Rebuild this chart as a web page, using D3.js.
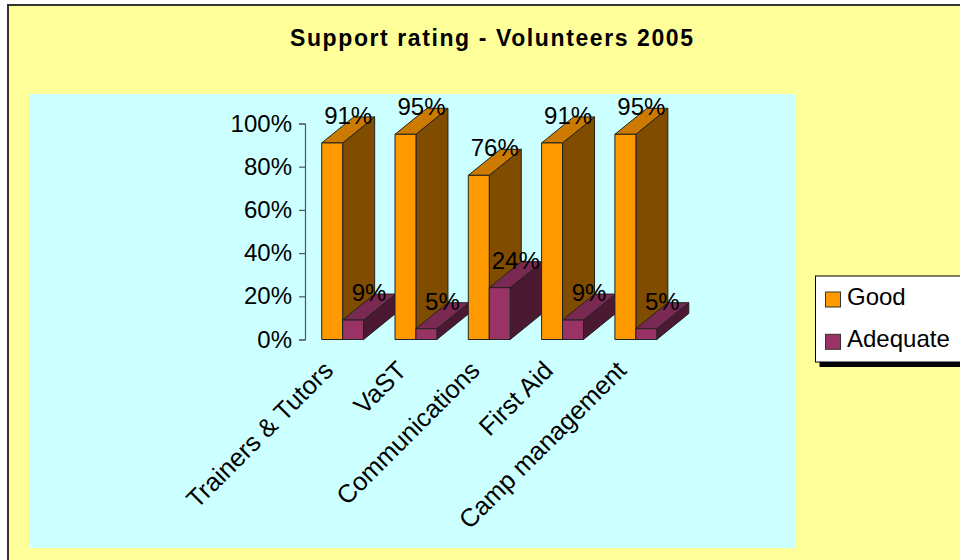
<!DOCTYPE html>
<html><head><meta charset="utf-8">
<script src="https://cdn.jsdelivr.net/npm/d3@7"></script>
<style>html,body{margin:0;padding:0;background:#fff;overflow:hidden}svg{display:block}</style>
</head><body>
<svg id="chart" width="960" height="560"></svg>
<script>
const title = "Support rating - Volunteers 2005";
const categories = ["Trainers & Tutors", "VaST", "Communications", "First Aid", "Camp management"];
const seriesNames = ["Good", "Adequate"];
const good = [0.91, 0.95, 0.76, 0.91, 0.95];
const adequate = [0.09, 0.05, 0.24, 0.09, 0.05];
const yTicks = [0, 0.2, 0.4, 0.6, 0.8, 1.0];

const seriesValues = [good, adequate];
const colors = {
  Good: {front: "#FF9900", top: "#CC7A00", side: "#7F4C00"},
  Adequate: {front: "#993366", top: "#7A2952", side: "#4C1933"}
};
const FONT = "'Liberation Sans', Arial, sans-serif";
const svg = d3.select("#chart");

// chart area background + border
svg.append("rect").attr("x", 8).attr("y", 5).attr("width", 960).attr("height", 560)
  .attr("fill", "#FFFF99").attr("stroke", "#333").attr("stroke-width", 2);
// plot area
svg.append("rect").attr("x", 29.5).attr("y", 94).attr("width", 766).attr("height", 454)
  .attr("fill", "#CCFFFF");

// title
svg.append("text").attr("x", 491.5).attr("y", 46).attr("text-anchor", "middle")
  .attr("font-family", FONT).attr("font-weight", "bold").attr("font-size", 23)
  .attr("textLength", 403).attr("lengthAdjust", "spacing")
  .text(title);

const y = d3.scaleLinear().domain([0, 1]).range([339.5, 123.5]);
const x = d3.scaleBand().domain(categories).range([306, 672.5]).paddingInner(0).paddingOuter(0);
const xs = d3.scaleBand().domain(seriesNames).range([0, x.bandwidth()]).paddingInner(0).paddingOuter(0.75);
const DX = 32, DY = -26;

// y axis
const yAxis = d3.axisLeft(y).tickValues(yTicks).tickFormat(d3.format(".0%")).tickSize(6).tickPadding(7);
const ga = svg.append("g").attr("transform", "translate(305,0)").call(yAxis);
ga.select(".domain").attr("stroke", "#555").attr("stroke-width", 1.2);
ga.selectAll(".tick line").attr("stroke", "#555").attr("stroke-width", 1.2);
ga.selectAll(".tick text").attr("font-family", FONT).attr("font-size", 24).attr("fill", "#000");

// bars
const bars = svg.append("g");
const labels = [];
const pts = p => "M" + p.map(q => q.join(",")).join("L") + "Z";
categories.forEach((c, i) => {
  seriesNames.forEach((s, k) => {
    const v = seriesValues[k][i];
    const x0 = x(c) + xs(s), x1 = x0 + xs.bandwidth();
    const yt = y(v), yb = y(0);
    const col = colors[s];
    const g = bars.append("g").attr("stroke", "#222").attr("stroke-width", 1).attr("stroke-linejoin", "round");
    g.append("path").attr("d", pts([[x1, yt], [x1 + DX, yt + DY], [x1 + DX, yb + DY], [x1, yb]])).attr("fill", col.side);
    g.append("path").attr("d", pts([[x0, yt], [x1, yt], [x1 + DX, yt + DY], [x0 + DX, yt + DY]])).attr("fill", col.top);
    g.append("path").attr("d", pts([[x0, yt], [x1, yt], [x1, yb], [x0, yb]])).attr("fill", col.front);
    labels.push({x: (x0 + x1) / 2 + DX / 2, y: yt + DY / 2 - 6, t: d3.format(".0%")(v)});
  });
});
svg.append("g").selectAll("text").data(labels).join("text")
  .attr("x", d => d.x).attr("y", d => d.y).attr("text-anchor", "middle")
  .attr("font-family", FONT).attr("font-size", 24).attr("fill", "#000")
  .text(d => d.t);

// category labels
svg.append("g").selectAll("text").data(categories).join("text")
  .attr("transform", d => `translate(${x(d) + x.bandwidth() / 2 - 8},372) rotate(-45)`)
  .attr("text-anchor", "end").attr("font-family", FONT).attr("font-size", 25.5).attr("fill", "#000")
  .text(d => d);

// legend
const lg = svg.append("g");
lg.append("rect").attr("x", 819.5).attr("y", 281).attr("width", 200).attr("height", 86).attr("fill", "#000");
lg.append("rect").attr("x", 815.5).attr("y", 276).attr("width", 200).attr("height", 86)
  .attr("fill", "#fff").attr("stroke", "#000").attr("stroke-width", 1);
seriesNames.forEach((s, k) => {
  const yy = 292 + k * 42.3;
  lg.append("rect").attr("x", 825.5).attr("y", yy).attr("width", 15).attr("height", 15)
    .attr("fill", colors[s].front).attr("stroke", "#333").attr("stroke-width", 1);
  lg.append("text").attr("x", 847).attr("y", yy + 12.8).attr("font-family", FONT).attr("font-size", 24)
    .attr("fill", "#000").text(s);
});
</script>
</body></html>
